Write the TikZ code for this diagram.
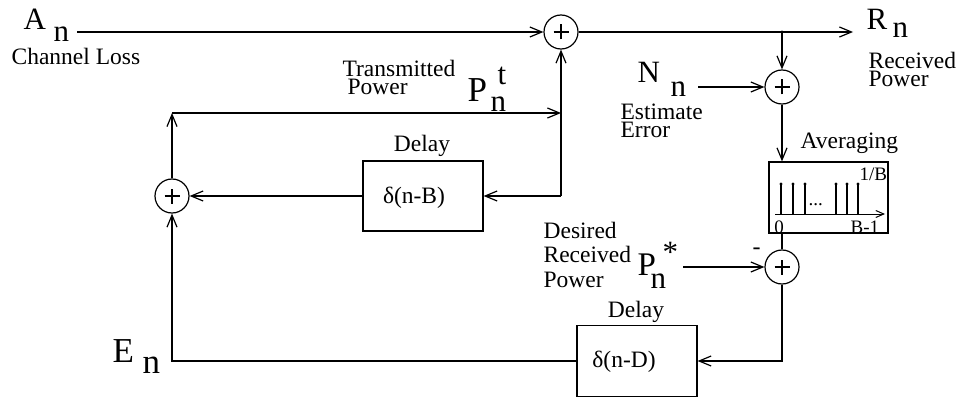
\documentclass[tikz,border=0pt]{standalone}
\usepackage{fontspec}
\setmainfont{Liberation Serif}
\usetikzlibrary{arrows.meta}
\newcommand{\fsz}[1]{\fontsize{#1}{#1}\selectfont}
\begin{document}
\begin{tikzpicture}[x=1pt,y=-1pt,line width=1.2pt,
  sumnode/.style={circle,draw,minimum size=34pt,inner sep=0pt,
    path picture={\draw[line width=2pt]
      ([xshift=-7.5pt]path picture bounding box.center) -- ([xshift=7.5pt]path picture bounding box.center)
      ([yshift=-7.5pt]path picture bounding box.center) -- ([yshift=7.5pt]path picture bounding box.center);}},
  boxnode/.style={draw,minimum width=120pt,minimum height=70pt,inner sep=0pt},
  arr/.style={-{Straight Barb[length=12pt,width=10pt]}},
  lbl/.style={inner sep=0pt,anchor=base west,font=\fsz{23.5}},
  clbl/.style={inner sep=0pt,anchor=base,font=\fsz{23.5}},
  big/.style={inner sep=0pt,anchor=base west,font=\fsz{31}},
  bigger/.style={inner sep=0pt,anchor=base west,font=\fsz{35}},
  small/.style={inner sep=0pt,anchor=base west,font=\fsz{19}}]
\useasboundingbox (0,0) rectangle (956,401);

% blocks
\node[sumnode] (s1) at (561,32) {};
\node[sumnode] (s2) at (782,87) {};
\node[sumnode] (s3) at (782,267) {};
\node[sumnode] (s4) at (172,196) {};
\node[boxnode] (dB) at (423,196) {};
\node[boxnode,minimum height=71pt] (dD) at (637,361) {};
\node[boxnode,minimum width=119pt,minimum height=71pt] (avg) at (828.5,197.5) {};

% averaging impulse picture
\draw[line width=1pt,-{Straight Barb[length=8pt,width=7pt]}] (775,214) -- (885,214);
\foreach \xx in {781,793,805,836,847,858}{
  \draw[line width=1.1pt] (\xx,214) -- (\xx,184);
  \fill (\xx,184) circle (1.6pt);
}

% coordinates
\coordinate (astart) at (77,32);
\coordinate (rend) at (853,32);
\coordinate (br) at (782,32);
\coordinate (nstart) at (698,87);
\coordinate (pstart) at (683,267);
\coordinate (corner) at (172,113);
\coordinate (jt) at (561,113);
\coordinate (jb) at (561,196);

% connectors
\draw[arr] (astart) -- (s1.west);
\draw[arr] (s1.east) -- (rend);
\fill (br) circle (1.6pt);
\draw[arr] (br) -- (s2.north);
\draw[arr] (nstart) -- (s2.west);
\draw[arr] (s2.south) -- (s2.south |- avg.north);
\draw (s3.north |- avg.south) -- (s3.north);
\draw[arr] (pstart) -- (s3.west);
\draw[arr] (s3.south) |- (dD.east);
\draw[arr] (dD.west) -| (s4.south);
\draw[arr] (s4.north) -- (corner);
\draw[arr] (corner) -- (jt);
\draw (jt) -- (jb);
\draw[arr] (jb) -- (s1.south);
\draw[arr] (jb) -- (dB.east);
\draw[arr] (dB.west) -- (s4.east);

% texts
\node[big] (tA) at (23,30) {A};
\node[big] (tAn) at (53,42) {n};
\node[lbl] (tcl) at (11,65) {Channel Loss};
\node[lbl] (ttr) at (342,77) {Transmitted};
\node[lbl] (ttp) at (347,95) {Power};
\node[bigger] (tP) at (467,102) {P};
\node[big] (tPt) at (497,85) {t};
\node[big] (tPn) at (490,112) {n};
\node[clbl] (tdl1) at (422,152) {Delay};
\node[clbl] (tdb) at (414,204) {δ(n-B)};
\node[big] (tN) at (637,83) {N};
\node[big] (tNn) at (670,97) {n};
\node[lbl] (tes) at (620,120) {Estimate};
\node[lbl] (ter) at (620,138) {Error};
\node[big] (tR) at (866,30) {R};
\node[big] (tRn) at (892,38) {n};
\node[lbl] (trc) at (868,69) {Received};
\node[lbl] (trp) at (868,87) {Power};
\node[lbl] (tav) at (800,149) {Averaging};
\node[small] (t1b) at (859,180) {1/B};
\node[small] (tdots) at (808,205) {...};
\node[inner sep=0pt,anchor=base,font=\fsz{19}] (t0) at (779,233) {0};
\node[small] (tb1) at (850,233) {B-1};
\node[inner sep=0pt,anchor=base,font=\fsz{24}] (tmin) at (756.5,254) {-};
\node[lbl] (tds) at (543,238) {Desired};
\node[lbl] (tdr) at (543,262) {Received};
\node[lbl] (tdp) at (543,287) {Power};
\node[inner sep=0pt,anchor=base west,font=\fsz{33}] (tPs) at (637,275) {P};
\node[big] (tPsn) at (650,288) {n};
\node[big] (tPss) at (662,262) {*};
\node[clbl] (tdl2) at (636,317) {Delay};
\node[clbl] (tdd) at (624,367) {δ(n-D)};
\node[bigger] (tE) at (112,362) {E};
\node[bigger] (tEn) at (142,373) {n};
\end{tikzpicture}
\end{document}
